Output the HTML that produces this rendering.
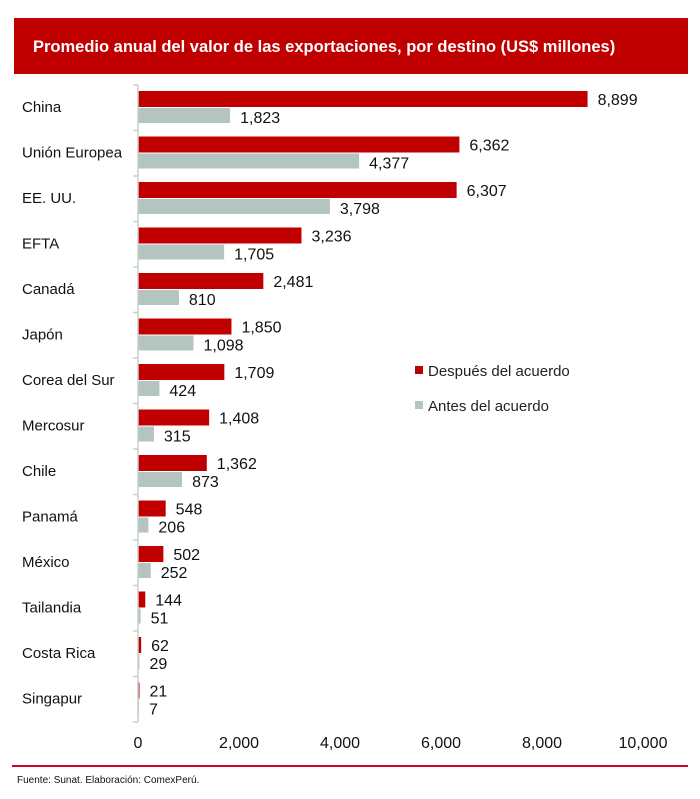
<!DOCTYPE html>
<html><head><meta charset="utf-8"><style>
body{margin:0;background:#fff;}
svg{display:block;font-family:"Liberation Sans",sans-serif;}
</style></head><body>
<svg width="700" height="799" viewBox="0 0 700 799">
<rect x="14" y="18" width="674" height="56" fill="#c00000"/>
<text x="33" y="52" font-size="16.5" font-weight="bold" fill="#fff">Promedio anual del valor de las exportaciones, por destino (US$ millones)</text>
<g id="c"></g>
<line x1="138" y1="85" x2="138" y2="722" stroke="#c8d0cc" stroke-width="1.5"/>
<rect x="415" y="366" width="8" height="8" fill="#c00000"/>
<text x="428" y="376" font-size="15" fill="#222">Después del acuerdo</text>
<rect x="415" y="401" width="8" height="8" fill="#b4c4c0"/>
<text x="428" y="411" font-size="15" fill="#222">Antes del acuerdo</text>
<g font-size="16" fill="#111" text-anchor="middle">
<text x="138" y="748">0</text><text x="239" y="748">2,000</text><text x="340" y="748">4,000</text><text x="441" y="748">6,000</text><text x="542" y="748">8,000</text><text x="643" y="748">10,000</text>
</g>
<rect x="12" y="765" width="676" height="2" fill="#d4002a"/>
<text x="17" y="783" font-size="10" fill="#111">Fuente: Sunat. Elaboración: ComexPerú.</text>
</svg>
<script>
var d=[["China",8899,1823],["Unión Europea",6362,4377],["EE. UU.",6307,3798],["EFTA",3236,1705],["Canadá",2481,810],["Japón",1850,1098],["Corea del Sur",1709,424],["Mercosur",1408,315],["Chile",1362,873],["Panamá",548,206],["México",502,252],["Tailandia",144,51],["Costa Rica",62,29],["Singapur",21,7]];
var k=0.05052,s="";
function f(n){return n.toLocaleString("en-US");}
d.forEach(function(r,i){var y=91+i*45.5;var a=Math.max(r[1]*k,1.5),b=Math.max(r[2]*k,1);
s+='<rect x="138" y="'+y+'" width="'+a+'" height="16" fill="#c00000"/>';
s+='<rect x="138" y="'+(y+17)+'" width="'+b+'" height="15" fill="#b4c4c0"/>';
s+='<text x="'+(148+a)+'" y="'+(y+14)+'" font-size="16" fill="#111">'+f(r[1])+'</text>';
s+='<text x="'+(148+b)+'" y="'+(y+32)+'" font-size="16" fill="#111">'+f(r[2])+'</text>';
s+='<text x="22" y="'+(y+21)+'" font-size="15" fill="#111">'+r[0]+'</text>';
var ty=85+i*45.5;s+='<line x1="133" y1="'+ty+'" x2="138" y2="'+ty+'" stroke="#c8d0cc" stroke-width="1.5"/>';});
s+='<line x1="133" y1="722" x2="138" y2="722" stroke="#c8d0cc" stroke-width="1.5"/>';
document.getElementById("c").innerHTML=s;
</script>
</body></html>
